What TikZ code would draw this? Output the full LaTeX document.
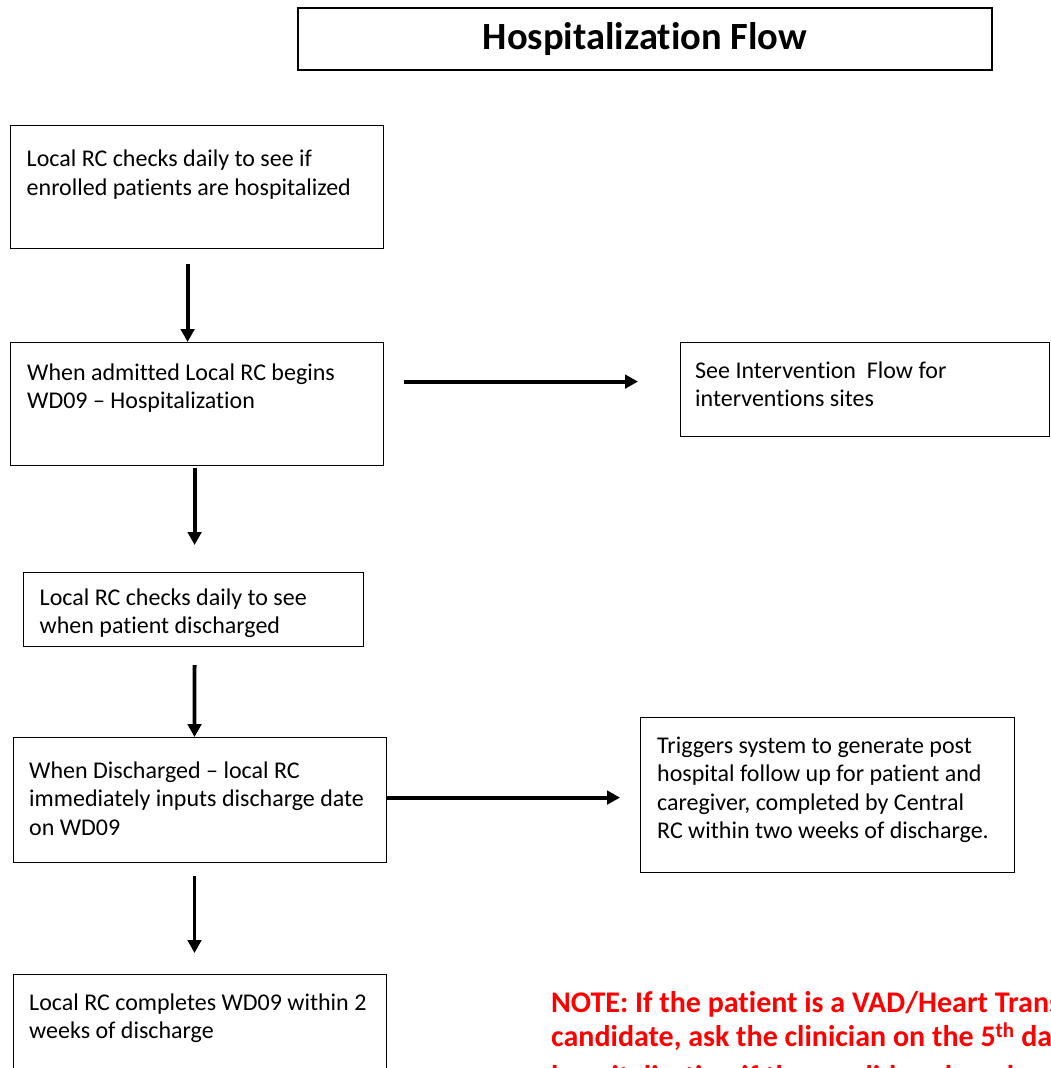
\documentclass[tikz,border=0pt]{standalone}
\usepackage{fontspec}
\setmainfont[Ligatures=NoCommon]{Carlito}
\usetikzlibrary{arrows.meta}
\newcommand\bodyfont{\fontsize{24}{28.5}\selectfont}
\newcommand\titlefont{\fontsize{38.5}{44}\selectfont\bfseries}
\newcommand\notefont{\fontsize{30}{31}\selectfont\bfseries}
\definecolor{notered}{RGB}{255,0,0}
\tikzset{
  box/.style={draw, line width=1.2pt, anchor=north west, inner sep=0pt},
  txt/.style={anchor=north west, inner sep=0pt, align=left, font=\bodyfont},
  arr/.style={line width=3.8pt, -{Triangle[length=13pt,width=13.5pt]}},
}
\begin{document}
\begin{tikzpicture}[x=1pt,y=-1pt]
\useasboundingbox (0,0) rectangle (1051,1068);
\clip (0,0) rectangle (1051,1068);

% title
\node[box, anchor=center, minimum width=694pt, minimum height=62pt] (title) at (645,39) {\titlefont Hospitalization Flow};

% process boxes
\node[box, minimum width=373pt, minimum height=123pt] (b1) at (10,125) {};
\node[box, minimum width=373pt, minimum height=123pt] (b2) at (10,342) {};
\node[box, minimum width=369pt, minimum height=94pt]  (b3) at (680,342) {};
\node[box, minimum width=340pt, minimum height=74pt]  (b4) at (23,572) {};
\node[box, minimum width=373pt, minimum height=125pt] (b5) at (12.7,737) {};
\node[box, minimum width=374pt, minimum height=155pt] (b6) at (640,717) {};
\node[box, minimum width=373pt, minimum height=125pt] (b7) at (12.7,974) {};

% box texts
\node[txt] (t1) at (26.5,146.7) {\strut Local RC checks daily to see if\\enrolled patients are hospitalized};
\node[txt] (t2) at (27,360) {\strut When admitted Local RC begins\\WD09 -- Hospitalization};
\node[txt] (t3) at (695,358) {\strut See Intervention\ \ Flow for\\interventions sites};
\node[txt] (t4) at (39.5,585) {\strut Local RC checks daily to see\\when patient discharged};
\node[txt] (t5) at (29,758) {\strut When Discharged -- local RC\\immediately inputs discharge date\\on WD09};
\node[txt] (t6) at (657,733) {\strut Triggers system to generate post\\hospital follow up for patient and\\caregiver, completed by Central\\RC within two weeks of discharge.};
\node[txt] (t7) at (29,990) {\strut Local RC completes WD09 within 2\\weeks of discharge};

% note (runs past the right edge)
\node[anchor=north west, inner sep=0pt, align=left, font=\notefont, text=notered] (note) at (551,990.3)
  {\strut NOTE: If the patient is a VAD/Heart Transplant\\candidate, ask the clinician on the 5\textsuperscript{th} day of\\[9pt]hospitalization if the candidacy has changed.};

% connectors
\draw[arr] ([xshift=-9.5pt,yshift=-14.7pt]b1.south) -- ([xshift=-9.5pt]b2.north);
\draw[arr] ([xshift=-2.5pt,yshift=-2pt]b2.south) -- ([xshift=1pt,yshift=27pt]b4.north);
\draw[arr] ([xshift=1pt,yshift=-18pt]b4.south) -- ([xshift=-5.3pt]b5.north);
\draw[arr] ([xshift=-5.3pt,yshift=-13pt]b5.south) -- ([xshift=-5.3pt,yshift=21pt]b7.north);
\draw[arr] ([xshift=20pt,yshift=22.5pt]b2.east) -- ([xshift=-42pt,yshift=8pt]b3.west);
\draw[arr] ([yshift=2.5pt]b5.east) -- ([xshift=-20pt,yshift=-2.5pt]b6.west);
\end{tikzpicture}
\end{document}
